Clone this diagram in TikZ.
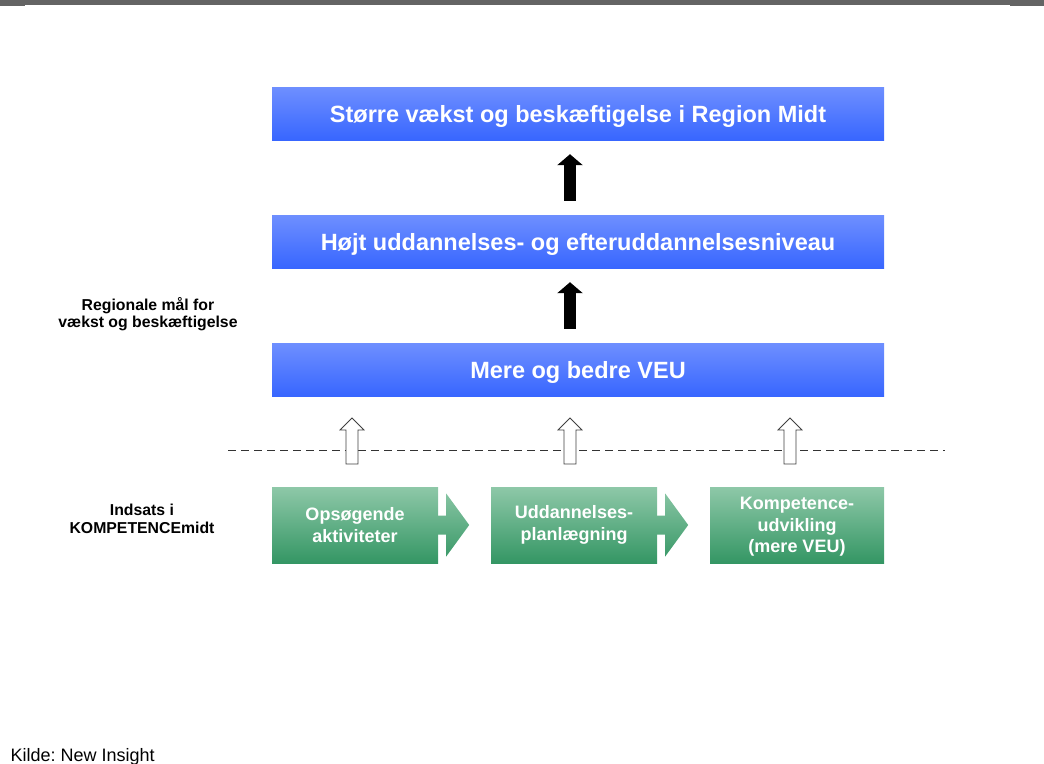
\documentclass[tikz,border=0pt]{standalone}
\usepackage{fontspec}
\setmainfont{Liberation Sans}
\frenchspacing
\usetikzlibrary{positioning, calc, arrows.meta}

\definecolor{goaltop}{RGB}{110,143,255}
\definecolor{goalbot}{RGB}{56,102,255}
\definecolor{steptop}{RGB}{142,200,168}
\definecolor{stepbot}{RGB}{52,150,100}
\definecolor{barcol}{RGB}{100,100,100}

\tikzset{
  goal/.style={rectangle, minimum width=612pt, minimum height=53pt, inner sep=0pt,
    text height=17pt, text depth=0pt,
    top color=goaltop, bottom color=goalbot, text=white,
    font=\bfseries\fontsize{23.5}{26}\selectfont},
  stepbox/.style={rectangle, minimum height=76pt, inner sep=0pt, align=center,
    top color=steptop, bottom color=stepbot, text=white,
    font=\bfseries\fontsize{18}{21.5}\selectfont},
  chevron/.style={top color=stepbot!9!steptop, bottom color=stepbot!91!steptop},
  uparrow/.style={line width=12pt, -{Triangle[width=25pt,length=11pt]},
    shorten <=14pt, shorten >=14pt},
  hollow/.style={draw=black!75, fill=white, line width=0.8pt},
  sidelabel/.style={align=center, font=\bfseries\fontsize{15.8}{17.5}\selectfont}
}

\begin{document}
\begin{tikzpicture}[x=1pt, y=-1pt, node distance=128pt]
  \useasboundingbox (0,0) rectangle (1044,763);
  \fill[barcol] (0,0) rectangle (1044,5);
  \fill[barcol] (0,0) rectangle (25,6);
  \fill[barcol] (1010,0) rectangle (1044,6);

  % maal
  \node[goal] (vaekst) at (578,113.5) {Større vækst og beskæftigelse i Region Midt};
  \node[goal] (niveau) [below of=vaekst] {Højt uddannelses- og efteruddannelsesniveau};
  \node[goal] (veu) [below of=niveau] {Mere og bedre VEU};

  \draw[uparrow] ([xshift=-8pt]niveau.north) -- ([xshift=-8pt]vaekst.south);
  \draw[uparrow] ([xshift=-8pt]veu.north) -- ([xshift=-8pt]niveau.south);

  % skillelinje
  \draw[black!80, line width=0.8pt, dash pattern=on 8pt off 5pt] (228,450) -- (945,450);

  \foreach \x in {352, 570, 790} {
    \draw[hollow] (\x-6,464) -- (\x-6,430) -- (\x-12,430) -- (\x,418)
      -- (\x+12,430) -- (\x+6,430) -- (\x+6,464) -- cycle;
  }

  % indsats
  \node[stepbox, minimum width=166pt] (opsoeg) at (355,525) {Opsøgende\\aktiviteter};
  \node[stepbox, minimum width=166pt] (planl) [right of=opsoeg, node distance=219pt] {Uddannelses-\\planlægning};
  \node[stepbox, minimum width=174pt, text depth=0pt] (kompet) [right of=planl, node distance=223pt] {Kompetence-\\udvikling\\(mere VEU)};

  \foreach \n in {opsoeg, planl} {
    \shade[chevron] ($(\n.east)+(0,-9.5)$) -- ++(8,0) -- ++(0,-22) -- ++(23,31.5)
      -- ++(-23,31.5) -- ++(0,-22) -- ++(-8,0) -- cycle;
  }

  \node[sidelabel] (regmaal) at (148,314) {Regionale mål for\\vækst og beskæftigelse};
  \node[sidelabel] (indsats) at (142,519) {Indsats i\\KOMPETENCEmidt};

  \node[anchor=base west, font=\fontsize{18}{20}\selectfont] (kilde) at (7,761) {Kilde: New Insight};
\end{tikzpicture}
\end{document}
